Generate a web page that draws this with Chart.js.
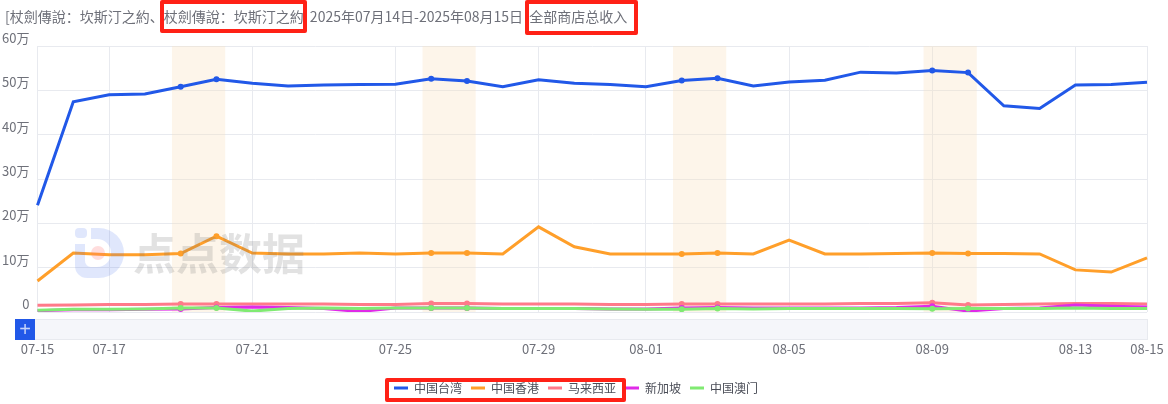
<!DOCTYPE html>
<html>
<head>
<meta charset="utf-8">
<title>全部商店总收入</title>
<script src="https://cdn.jsdelivr.net/npm/chart.js@4/dist/chart.umd.min.js"></script>
<style>
  body { margin: 0; background: #fff; font-family: "Noto Sans CJK SC", sans-serif; }
  #wrap { position: relative; width: 1168px; height: 404px; overflow: hidden; }
  canvas { position: absolute; left: 0; top: 0; }
  .title { position: absolute; top: 6px; left: 5px; font-size: 14px; line-height: 20px; color: #6e7079; white-space: nowrap; word-spacing: 3px; }
  .box { position: absolute; box-sizing: border-box; border: 4px solid #ff2116; border-radius: 2px; }
  #track { position: absolute; left: 35px; top: 319px; width: 1113px; height: 21px; box-sizing: border-box; background: #f5f6fa; border: 1px solid #e8eaef; border-left: 0; }
  #plus { position: absolute; left: 15px; top: 319px; width: 20px; height: 21px; background: #2158e8; color: rgba(255,255,255,.75); font: 20px/20px "Liberation Sans", sans-serif; text-align: center; }
  #mark { position: absolute; left: 133px; top: 223px; font-size: 43px; line-height: 56px; font-weight: 700; color: rgba(110, 110, 110, .2); white-space: nowrap; }
  #logo { position: absolute; left: 75px; top: 228px; }
</style>
</head>
<body>
<div id="wrap">
  <canvas id="myChart" width="1168" height="404"></canvas>
  <div class="title">[杖劍傳說：坎斯汀之約、杖劍傳說：坎斯汀之約 2025年07月14日-2025年08月15日 全部商店总收入</div>
  <div class="box" style="left:160px;top:0;width:147px;height:33px"></div>
  <div class="box" style="left:525px;top:0;width:113px;height:35px"></div>
  <div class="box" style="left:385px;top:378px;width:241px;height:24px"></div>
  <div id="track"></div>
  <div id="plus">+</div>
  <svg id="logo" width="50" height="50" viewBox="0 0 50 50">
    <rect x="0" y="0" width="12" height="10" rx="4" fill="rgba(70,115,235,.17)"/>
    <path d="M0 16 h10 v17 a6 6 0 0 0 6 6 h6 a14 14 0 0 0 0 -28 h-6 v-11 h8 a25 25 0 0 1 0 50 h-12 a12 12 0 0 1 -12 -12 z" fill="rgba(70,115,235,.17)"/>
    <circle cx="23" cy="25" r="7" fill="rgba(255,120,120,.25)"/>
  </svg>
  <div id="mark">点点数据</div>
</div>

<script>
// values are in 万
var labels = ['07-15','07-16','07-17','07-18','07-19','07-20','07-21','07-22','07-23','07-24','07-25','07-26','07-27','07-28','07-29','07-30','07-31','08-01','08-02','08-03','08-04','08-05','08-06','08-07','08-08','08-09','08-10','08-11','08-12','08-13','08-14','08-15'];
var xTickLabels = ['07-15','07-17','07-21','07-25','07-29','08-01','08-05','08-09','08-13','08-15'];
var weekendLabels = ['07-19','07-20','07-26','07-27','08-02','08-03','08-09','08-10'];
var weekendBands = [['07-19','07-20'],['07-26','07-27'],['08-02','08-03'],['08-09','08-10']];
var yTicks = [0,10,20,30,40,50,60];

var taiwan = [24.1,47.4,49.0,49.2,50.8,52.5,51.6,51.0,51.2,51.3,51.4,52.6,52.1,50.8,52.4,51.6,51.3,50.8,52.2,52.7,51.0,51.9,52.3,54.1,53.9,54.5,54.0,46.5,45.9,51.2,51.3,51.8];
var hongkong = [7.0,13.3,12.9,12.9,13.2,17.1,13.3,13.1,13.1,13.3,13.1,13.3,13.3,13.1,19.2,14.7,13.1,13.1,13.1,13.3,13.1,16.2,13.1,13.1,13.2,13.3,13.2,13.2,13.1,9.5,9.0,12.2];
var malaysia = [1.5,1.6,1.7,1.7,1.8,1.8,1.8,1.8,1.8,1.7,1.7,1.9,1.9,1.8,1.8,1.8,1.7,1.7,1.8,1.8,1.8,1.8,1.8,1.9,1.9,2.1,1.6,1.7,1.8,1.9,1.9,1.8];
var singapore = [0.3,0.5,0.5,0.6,0.7,1.0,1.1,1.0,0.8,0.1,0.9,0.9,0.9,0.8,0.8,0.8,0.7,0.7,0.9,1.0,0.9,0.9,0.9,0.9,1.0,1.3,0.2,0.8,0.9,1.6,1.3,1.1];
var macau = [0.4,0.6,0.6,0.7,0.9,0.9,0.2,0.8,0.9,0.8,0.9,0.9,0.9,0.8,0.8,0.8,0.7,0.6,0.6,0.8,0.7,0.8,0.8,0.8,0.8,0.75,0.8,0.8,0.8,0.9,0.8,0.8];

function series(name, values, color, order) {
	return {
		label: name,
		data: values,
		borderColor: color,
		backgroundColor: color,
		borderWidth: 3,
		tension: 0,
		order: order,
		pointRadius: labels.map(function (l) { return weekendLabels.indexOf(l) >= 0 ? 3 : 0; }),
		pointBorderWidth: 0
	};
}

// weekend stripes behind the lines
var bandPlugin = {
	id: 'bands',
	afterLayout: function (chart) {
		// legend sits a little right of the plot centre
		chart.legend.left += 2.5;
		chart.legend.right += 2.5;
	},
	beforeDatasetsDraw: function (chart) {
		var x = chart.scales.x, area = chart.chartArea, c = chart.ctx;
		c.save();
		c.fillStyle = 'rgba(250,225,190,.33)';
		weekendBands.forEach(function (b) {
			var a = x.getPixelForValue(labels.indexOf(b[0])) - 8.7;
			var z = x.getPixelForValue(labels.indexOf(b[1])) + 8.7;
			c.fillRect(a, area.top, z - a, area.bottom - area.top);
		});
		c.restore();
	}
};

Chart.defaults.font.family = '"Noto Sans CJK SC", sans-serif';
Chart.defaults.font.size = 13;
Chart.defaults.color = '#6e7079';

var chart = new Chart(document.getElementById('myChart').getContext('2d'), {
	type: 'line',
	data: {
		labels: labels,
		datasets: [
			series('中国台湾', taiwan, '#2158e8', 5),
			series('中国香港', hongkong, '#ff9f2a', 4),
			series('马来西亚', malaysia, '#ff7a8a', 3),
			series('新加坡', singapore, '#e02ae8', 2),
			series('中国澳门', macau, '#80ea72', 1)
		]
	},
	plugins: [bandPlugin],
	options: {
		responsive: false,
		animation: false,
		layout: { padding: { top: 46, right: 21, bottom: 0, left: 0 } },
		plugins: {
			tooltip: { enabled: false },
			legend: {
				position: 'bottom',
				labels: {
					boxWidth: 14,
					boxHeight: 3,
					padding: 9,
					color: '#4a4d57',
					font: { size: 12 },
					generateLabels: function (chart) {
						var items = Chart.defaults.plugins.legend.labels.generateLabels(chart);
						items.forEach(function (i) { i.lineWidth = 0; });
						return items;
					},
					sort: function (a, b) { return a.datasetIndex - b.datasetIndex; }
				}
			}
		},
		scales: {
			x: {
				offset: false,
				border: { display: false },
				afterFit: function (scale) {
					scale.height = 61;
					scale.paddingLeft = 0;
					scale.paddingRight = 0;
				},
				grid: {
					drawTicks: false,
					color: function (ctx) {
						return xTickLabels.indexOf(labels[ctx.index]) >= 0 ? '#e8eaef' : 'transparent';
					}
				},
				ticks: {
					autoSkip: false,
					maxRotation: 0,
					padding: 29,
					callback: function (value) {
						var l = this.getLabelForValue(value);
						return xTickLabels.indexOf(l) >= 0 ? l : '';
					}
				}
			},
			y: {
				min: 0,
				max: 60,
				border: { display: false },
				afterFit: function (scale) {
					scale.width = 37.5;
					scale.paddingTop = 0;
					scale.paddingBottom = 0;
				},
				afterBuildTicks: function (scale) {
					scale.ticks = yTicks.map(function (v) { return { value: v }; });
				},
				grid: { drawTicks: false, color: '#e8eaef' },
				ticks: {
					labelOffset: -8,
					padding: 8,
					callback: function (value) {
						return value === 0 ? '0' : value + '万';
					}
				}
			}
		}
	}
});
</script>
</body>
</html>
